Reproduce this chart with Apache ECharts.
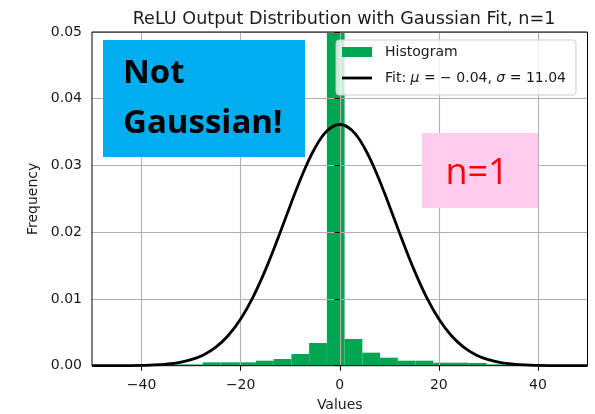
<!DOCTYPE html>
<html>
<head>
<meta charset="utf-8">
<script src="https://cdn.jsdelivr.net/npm/echarts@6/dist/echarts.min.js"></script>
<style>html,body{margin:0;padding:0;background:#fff;}#c{width:595px;height:414px;}</style>
</head>
<body>
<div id="c"></div>
<script>
// Histogram bins (density)
const binLeft  = [-34.82,-31.24,-27.66,-24.08,-20.50,-16.92,-13.34,-9.76,-6.18,-2.60,0.98,4.56,8.14,11.72,15.30,18.88,22.46,26.04,29.62,33.20];
const binRight = [-31.24,-27.66,-24.08,-20.50,-16.92,-13.34,-9.76,-6.18,-2.60,0.98,4.56,8.14,11.72,15.30,18.88,22.46,26.04,29.62,33.20,36.78];
const binHeight = [0.0002,0.0002,0.0005,0.0005,0.0005,0.00075,0.001,0.00175,0.0034,0.26,0.0040,0.00195,0.0012,0.00075,0.00075,0.00045,0.00045,0.0004,0.0002,0.0001];

// Gaussian fit curve
const fitX = [-50,-47.5,-45,-42.5,-40,-37.5,-35,-32.5,-30,-27.5,-25,-22.5,-20,-17.5,-15,-12.5,-10,-7.5,-5,-2.5,0,2.5,5,7.5,10,12.5,15,17.5,20,22.5,25,27.5,30,32.5,35,37.5,40,42.5,45,47.5,50];
const fitY = [0,0,0.00001,0.00002,0.00005,0.00011,0.00024,0.00047,0.0009,0.00162,0.00278,0.00453,0.007,0.01029,0.01436,0.01904,0.02398,0.02869,0.03262,0.03523,0.03614,0.03523,0.03262,0.02869,0.02398,0.01904,0.01436,0.01029,0.007,0.00453,0.00278,0.00162,0.0009,0.00047,0.00024,0.00011,0.00005,0.00002,0.00001,0,0];

const xTicks = [-40,-20,0,20,40];
const histName = 'Histogram';
const fitName = 'Fit: μ = −0.04, σ = 11.04';

const green = '#00a651';
const histData = binLeft.map((l,i)=>[l, binRight[i], binHeight[i]]);
const fitData = fitX.map((x,i)=>[x, fitY[i]]);
const FONT = 'DejaVu Sans';

const chart = echarts.init(document.getElementById('c'), null, {renderer:'canvas'});
chart.setOption({
  animation:false,
  backgroundColor:'#fff',
  title:{
    text:'ReLU Output Distribution with Gaussian Fit, n=1',
    left:339, top:5, textAlign:'center',
    textStyle:{fontFamily:FONT, fontSize:17.6, fontWeight:'normal', color:'#1a1a1a'}
  },
  grid:{left:92, right:7.5, top:32, bottom:48.3, show:true, z:5, borderColor:'#000', borderWidth:1,
    backgroundColor:'transparent', containLabel:false, outerBoundsMode:'none'},
  legend:{
    orient:'vertical', left:336, top:40, z:8,
    padding:[5,10,10,6], itemGap:12, itemWidth:30, itemHeight:10,
    backgroundColor:'rgba(255,255,255,0.8)', borderColor:'#cccccc', borderWidth:1, borderRadius:3,
    textStyle:{fontFamily:FONT, fontSize:14, color:'#1a1a1a', padding:[0,0,0,8],
      rich:{i:{fontFamily:FONT, fontSize:14, fontStyle:'italic', color:'#1a1a1a'}}},
    formatter:(n)=> n===fitName ? 'Fit: {i|μ} = − 0.04, {i|σ} = 11.04' : n,
    data:[
      {name:histName, icon:'rect', itemStyle:{color:green}},
      {name:fitName, icon:'path://M0,0 L30,0 L30,2.8 L0,2.8 Z', itemStyle:{color:'#000'}}
    ]
  },
  xAxis:{
    type:'value', min:-50, max:50, z:3,
    name:'Values', nameLocation:'middle', nameGap:33,
    nameTextStyle:{fontFamily:FONT, fontSize:14, color:'#1a1a1a'},
    axisLine:{show:false},
    axisTick:{show:true, inside:false, length:5, customValues:xTicks, lineStyle:{color:'#000', width:1}},
    axisLabel:{customValues:xTicks, margin:13, fontFamily:FONT, fontSize:14, color:'#1a1a1a',
      formatter:(v)=> v<0 ? '−'+Math.abs(v) : String(v)},
    splitLine:{show:true, lineStyle:{color:'#b0b0b0', width:1.1}}
  },
  yAxis:{
    type:'value', min:0, max:0.05, interval:0.01, z:3,
    name:'Frequency', nameLocation:'middle', nameGap:50,
    nameTextStyle:{fontFamily:FONT, fontSize:14, color:'#1a1a1a'},
    axisLine:{show:false},
    axisTick:{show:true, inside:false, length:5, lineStyle:{color:'#000', width:1}},
    axisLabel:{margin:10, fontFamily:FONT, fontSize:14, color:'#1a1a1a', formatter:(v)=>v.toFixed(2)},
    splitLine:{show:true, lineStyle:{color:'#b0b0b0', width:1.1}}
  },
  series:[
    {
      name:histName, type:'custom', z:2, data:histData,
      encode:{x:[0,1], y:2},
      itemStyle:{color:green},
      renderItem:(params, api)=>{
        const p0 = api.coord([api.value(0), api.value(2)]);
        const p1 = api.coord([api.value(1), 0]);
        const shape = echarts.graphic.clipRectByRect(
          {x:p0[0], y:p0[1], width:p1[0]-p0[0], height:p1[1]-p0[1]},
          {x:params.coordSys.x, y:params.coordSys.y, width:params.coordSys.width, height:params.coordSys.height});
        if(!shape) return null;
        return {type:'rect', shape:shape, style:{fill:green}};
      }
    },
    {
      name:fitName, type:'line', z:4, data:fitData, symbol:'none', smooth:0.4,
      lineStyle:{color:'#000', width:2.8}, itemStyle:{color:'#000'}
    }
  ],
  graphic:[
    {type:'rect', z:20, shape:{x:103, y:40, width:202, height:117}, style:{fill:'#00aeef'}},
    {type:'text', z:21, x:123, y:74, style:{text:'Not', font:'bold 33px "Open Sans"', fill:'#000', textAlign:'left', textVerticalAlign:'middle'}},
    {type:'text', z:21, x:123, y:124, style:{text:'Gaussian!', font:'bold 33px "Open Sans"', fill:'#000', textAlign:'left', textVerticalAlign:'middle'}},
    {type:'rect', z:20, shape:{x:422, y:133, width:116, height:75}, style:{fill:'#ffccee'}},
    {type:'text', z:21, x:477, y:174, style:{text:'n=1', font:'36px "Open Sans"', fill:'#ff0000', textAlign:'center', textVerticalAlign:'middle'}}
  ]
});
</script>
</body>
</html>
